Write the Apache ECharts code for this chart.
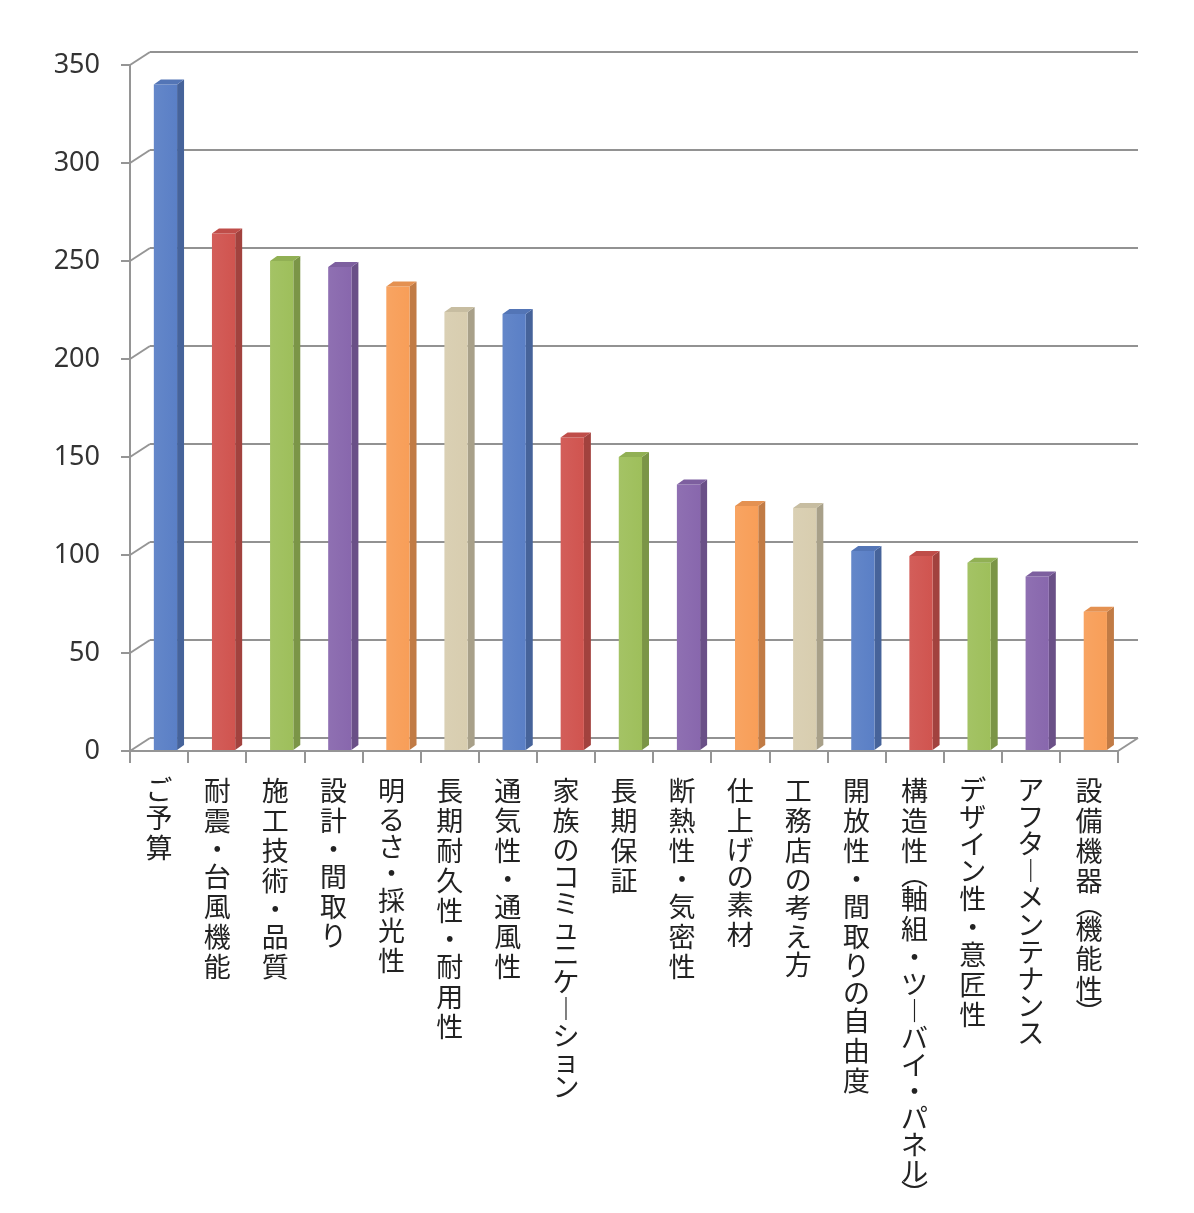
<!DOCTYPE html>
<html>
<head>
<meta charset="utf-8">
<script src="https://cdn.jsdelivr.net/npm/echarts@6/dist/echarts.min.js"></script>
<style>
html,body{margin:0;padding:0;background:#fff;}
#chart{width:1194px;height:1213px;}
</style>
</head>
<body>
<div id="chart"></div>
<script>
const categories = ['ご予算','耐震・台風機能','施工技術・品質','設計・間取り','明るさ・採光性','長期耐久性・耐用性','通気性・通風性','家族のコミュニケーション','長期保証','断熱性・気密性','仕上げの素材','工務店の考え方','開放性・間取りの自由度','構造性（軸組・ツーバイ・パネル）','デザイン性・意匠性','アフターメンテナンス','設備機器（機能性）'];
const values = [340, 264, 250, 247, 237, 224, 223, 160, 150, 136, 125, 124, 102, 99.5, 96, 89, 71];
const yMin = 0;
const yMax = 350;
const yInterval = 50;
const yTickValues = [0, 50, 100, 150, 200, 250, 300, 350];
const palette = ['#5A7FC6', '#D0544F', '#9EBF5B', '#8867AD', '#F89E58', '#D8CDAF'];

function shade(hex, f) {
  const n = parseInt(hex.slice(1), 16);
  let r = (n >> 16) & 255, g = (n >> 8) & 255, b = n & 255;
  const m = v => Math.max(0, Math.min(255, Math.round(f < 0 ? v * (1 + f) : v + (255 - v) * f)));
  return 'rgb(' + m(r) + ',' + m(g) + ',' + m(b) + ')';
}

function vert(s) {
  return Array.from(s).map(ch => {
    let c = ch, st = 'k';
    if (ch === 'ー') { c = '︱'; st = 'n'; }
    else if (ch === '（') { c = '︵'; st = 'p'; }
    else if (ch === '）') { c = '︶'; st = 'p'; }
    else if (ch === '・') { st = 'd'; }
    else if ('ュョッャァィゥェォ'.indexOf(ch) >= 0) { st = 's'; }
    else if (/[\u3040-\u30ff]/.test(ch)) { st = 'n'; }
    return '{' + st + '|' + c + '}';
  }).join('\n');
}

const FONT = '"Noto Sans CJK JP", "Noto Sans", sans-serif';
const lblBase = { fontSize: 27, fontFamily: FONT, color: '#222' };
const DX = 20, DY = -13;

const chart = echarts.init(document.getElementById('chart'), null, { renderer: 'canvas' });

const option = {
  backgroundColor: '#ffffff',
  animation: false,
  grid: [
    { left: 130, top: 65, right: 76, bottom: 462 },
    { left: 130 + DX, top: 65 + DY, right: 76 - DX, bottom: 462 - DY }
  ],
  xAxis: [
    {
      type: 'category', gridIndex: 0, data: categories, boundaryGap: true,
      axisLine: { show: true, lineStyle: { color: '#959595', width: 2 } },
      axisTick: { show: true, length: 12, lineStyle: { color: '#959595', width: 2 } },
      axisLabel: {
        interval: 0, margin: 25, hideOverlap: false,
        formatter: v => vert(v),
        rich: {
          k: Object.assign({ lineHeight: 30 }, lblBase),
          n: Object.assign({ lineHeight: 27 }, lblBase),
          s: Object.assign({ lineHeight: 24 }, lblBase),
          d: Object.assign({ lineHeight: 26 }, lblBase),
          p: Object.assign({ lineHeight: 18 }, lblBase)
        }
      },
      splitLine: { show: false }
    },
    {
      type: 'value', gridIndex: 1, min: 0, max: 1, show: false
    }
  ],
  yAxis: [
    {
      type: 'value', gridIndex: 0, min: yMin, max: yMax, interval: yInterval,
      axisLine: { show: true, lineStyle: { color: '#959595', width: 2 } },
      axisTick: { show: true, length: 9, lineStyle: { color: '#959595', width: 2 } },
      axisLabel: { margin: 30, fontSize: 27, fontFamily: '"Noto Sans", sans-serif', color: '#333' },
      splitLine: { show: false }
    },
    {
      type: 'value', gridIndex: 1, min: yMin, max: yMax, interval: yInterval,
      axisLine: { show: false }, axisTick: { show: false }, axisLabel: { show: false },
      splitLine: { show: true, lineStyle: { color: '#929292', width: 2 } }
    }
  ],
  series: [
    {
      type: 'custom', xAxisIndex: 0, yAxisIndex: 0, z: 1, silent: true,
      data: yTickValues.map(v => [0, v]),
      renderItem: function (params, api) {
        const v = api.value(1);
        const y = api.coord([0, v])[1];
        const cs = params.coordSys;
        const style = { stroke: '#959595', lineWidth: 2 };
        const children = [{
          type: 'line', shape: { x1: cs.x, y1: y, x2: cs.x + DX, y2: y + DY }, style: style
        }];
        if (v === 0) {
          children.push({
            type: 'line', shape: { x1: cs.x + cs.width, y1: y, x2: cs.x + cs.width + DX, y2: y + DY }, style: style
          });
        }
        return { type: 'group', children: children };
      }
    },
    {
      type: 'custom', xAxisIndex: 0, yAxisIndex: 0, z: 3, silent: true,
      data: values.map((v, i) => [i, v]),
      renderItem: function (params, api) {
        const i = api.value(0), v = api.value(1);
        const base = api.coord([i, 0]);
        const top = api.coord([i, v]);
        const bw = api.size([1, 0])[0];
        const x0 = base[0] - bw * 0.09, x1 = base[0] + bw * 0.31;
        const dx = bw * 0.12, dy = 5;
        const c = palette[i % palette.length];
        const yb = base[1] - 1;
        return {
          type: 'group',
          children: [
            {
              type: 'polygon',
              shape: { points: [[x1, top[1]], [x1 + dx, top[1] - dy], [x1 + dx, yb - dy], [x1, yb]] },
              style: { fill: shade(c, -0.22) }
            },
            {
              type: 'rect',
              shape: { x: x0, y: top[1], width: x1 - x0, height: yb - top[1] },
              style: {
                fill: {
                  type: 'linear', x: 0, y: 0, x2: 1, y2: 0,
                  colorStops: [{ offset: 0, color: shade(c, 0.06) }, { offset: 1, color: c }]
                }
              }
            },
            {
              type: 'polygon',
              shape: { points: [[x0, top[1]], [x0 + dx, top[1] - dy], [x1 + dx, top[1] - dy], [x1, top[1]]] },
              style: { fill: shade(c, -0.08) }
            }
          ]
        };
      }
    }
  ]
};

chart.setOption(option);
</script>
</body>
</html>
